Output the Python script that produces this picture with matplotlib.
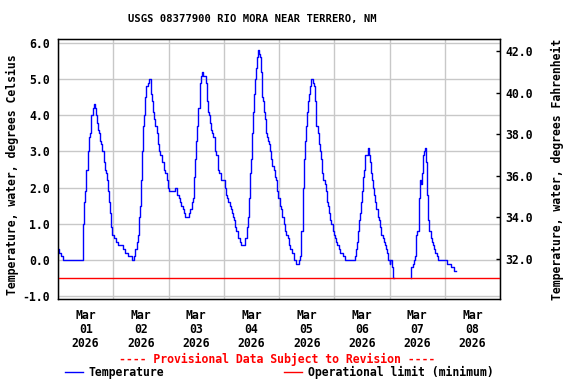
import matplotlib
matplotlib.use("Agg")
import matplotlib.pyplot as plt
import matplotlib.dates as mdates
from matplotlib.lines import Line2D
from matplotlib.ticker import FormatStrFormatter
import numpy as np
import pandas as pd

# hours after 2026-03-01 00:00 and water temperature (deg C)
# (nan = no trace drawn, below the operational limit)
hours = [0.0, 0.45, 1.2, 2.2, 10.8, 11.0, 11.4, 11.9, 12.3, 12.9, 13.3, 13.7, 14.2, 14.5,
         15.0, 15.8, 16.1, 16.4, 16.8, 17.2, 17.7, 18.2, 18.7, 19.2, 20.0, 20.4, 20.8, 21.1,
         21.7, 22.3, 22.6, 23.1, 23.6, 24.3, 25.3, 26.0, 28.2, 29.2, 30.4, 32.0, 33.2, 33.6,
         34.2, 34.7, 35.2, 35.6, 36.0, 36.5, 36.9, 37.3, 37.6, 38.0, 38.3, 38.9, 39.5, 40.2,
         40.9, 41.4, 41.8, 42.2, 42.8, 43.4, 44.0, 44.5, 45.3, 46.0, 46.4, 47.2, 47.7, 48.2,
         50.7, 51.5, 52.5, 52.9, 53.6, 54.2, 54.7, 55.1, 57.1, 57.5, 58.0, 58.6, 59.0, 59.6,
         60.0, 60.4, 60.9, 61.5, 62.0, 62.6, 63.2, 64.2, 64.6, 65.1, 65.5, 65.9, 66.5, 66.9,
         67.5, 68.1, 68.4, 68.8, 69.3, 69.5, 70.1, 70.6, 71.0, 72.4, 72.9, 73.4, 73.9, 74.5,
         75.0, 75.6, 76.1, 76.6, 77.1, 77.5, 78.1, 79.1, 79.7, 81.4, 82.0, 82.4, 82.9, 83.3,
         83.7, 84.1, 84.6, 85.0, 85.4, 85.9, 86.3, 86.8, 87.2, 87.6, 88.1, 88.5, 88.9, 89.4,
         89.8, 90.2, 90.7, 91.1, 91.5, 92.1, 92.7, 93.1, 93.7, 94.1, 94.6, 95.1, 95.7, 96.3,
         96.9, 97.4, 98.0, 98.6, 99.2, 99.7, 100.3, 100.9, 101.6, 102.4, 103.5, 104.8, 105.2,
         105.7, 106.3, 106.8, 107.3, 107.7, 108.1, 108.6, 109.0, 109.4, 109.9, 110.9, 111.3,
         111.8, 112.2, 112.8, 113.3, 113.8, 114.2, 114.8, 115.2, 115.8, 116.2, 116.8, 117.2,
         117.8, 118.3, 118.7, 119.3, 119.7, 120.3, 120.7, 121.3, 121.9, 122.5, 123.6, 124.5,
         128.8, 129.4, 129.8, 130.3, 130.7, 131.1, 131.6, 132.0, 132.4, 132.9, 133.3, 134.5,
         135.0, 135.5, 135.9, 136.3, 136.8, 137.2, 137.6, 138.2, 138.9, 139.5, 140.0, 140.5,
         141.1, 141.5, 142.1, 142.5, 143.1, 143.5, 144.0, 144.2, 145.3, 145.7, 145.8, 153.4,
         153.5, 154.0,
         154.5, 155.1, 155.4, 155.7, 156.1, 156.6, 157.0, 157.4, 157.9, 158.3, 158.7, 159.2,
         159.6, 160.0, 160.5, 160.9, 161.3, 161.9, 162.3, 162.8, 163.4, 163.9, 164.5, 165.2,
         168.9, 170.7, 172.2, 172.8]
temp_c = [0.3, 0.2, 0.1, 0.0, 0.3, 1.0, 1.6, 1.9, 2.5, 3.0, 3.4, 3.5, 3.8, 4.0,
          4.2, 4.3, 4.2, 4.0, 3.8, 3.6, 3.5, 3.3, 3.2, 3.0, 2.7, 2.5, 2.4, 2.2,
          1.9, 1.6, 1.3, 0.9, 0.7, 0.6, 0.5, 0.4, 0.3, 0.2, 0.1, 0.0, 0.1, 0.3,
          0.5, 0.7, 1.2, 1.5, 2.2, 3.0, 3.7, 4.0, 4.2, 4.5, 4.8, 4.9, 5.0, 4.6,
          4.4, 4.1, 3.9, 3.7, 3.5, 3.2, 3.0, 2.9, 2.7, 2.5, 2.4, 2.2, 2.0, 1.9,
          2.0, 1.8, 1.7, 1.6, 1.5, 1.4, 1.3, 1.2, 1.3, 1.4, 1.6, 1.7, 2.3, 2.8,
          3.3, 3.7, 4.2, 4.9, 5.1, 5.2, 5.1, 4.9, 4.4, 4.1, 4.0, 3.8, 3.6, 3.5,
          3.4, 3.2, 3.0, 2.9, 2.7, 2.5, 2.4, 2.3, 2.2, 2.0, 1.8, 1.7, 1.6, 1.5,
          1.4, 1.3, 1.2, 1.1, 0.9, 0.8, 0.6, 0.5, 0.4, 0.6, 0.9, 1.2, 1.7, 2.4,
          2.8, 3.5, 4.1, 4.6, 5.0, 5.3, 5.6, 5.8, 5.7, 5.6, 5.2, 4.5, 4.4, 4.1,
          3.9, 3.5, 3.4, 3.3, 3.2, 3.0, 2.8, 2.6, 2.5, 2.3, 2.2, 1.9, 1.7, 1.5,
          1.4, 1.2, 1.0, 0.8, 0.7, 0.6, 0.4, 0.3, 0.2, 0.0, -0.1, 0.0, 0.1,
          0.8, 2.0, 2.8, 3.3, 3.7, 4.1, 4.4, 4.6, 4.8, 5.0, 4.9, 4.8,
          4.4, 3.7, 3.5, 3.2, 3.0, 2.8, 2.4, 2.2, 2.1, 1.9, 1.6, 1.5,
          1.3, 1.1, 1.0, 0.8, 0.7, 0.6, 0.5, 0.4, 0.3, 0.2, 0.1, 0.0,
          0.1, 0.3, 0.5, 0.8, 1.1, 1.3, 1.6, 1.9, 2.3, 2.5, 2.9, 3.1,
          2.9, 2.7, 2.4, 2.2, 2.0, 1.8, 1.6, 1.4, 1.2, 1.1, 0.9, 0.7,
          0.6, 0.5, 0.4, 0.3, 0.2, 0.0, -0.1, 0.0, -0.2, -0.5, np.nan, -0.5,
          -0.2, -0.1,
          0.0, 0.1, 0.3, 0.7, 0.8, 1.2, 1.7, 2.2, 2.1, 2.4, 2.9, 3.0,
          3.1, 2.7, 1.8, 1.1, 0.8, 0.6, 0.5, 0.4, 0.3, 0.2, 0.1, 0.0,
          -0.1, -0.2, -0.3, -0.3]
op_limit_c = -0.5
c_ticks = [-1, 0, 1, 2, 3, 4, 5, 6]
f_ticks = [32, 34, 36, 38, 40, 42]

start = pd.Timestamp("2026-03-01")
times = start + pd.to_timedelta(hours, unit="h")

plt.rcParams["font.family"] = "DejaVu Sans Mono"
plt.rcParams["font.weight"] = "bold"
plt.rcParams["font.size"] = 8.3

W, H = 576, 384
fig = plt.figure(figsize=(W / 100, H / 100), dpi=100)
ax = fig.add_axes([58 / W, 85 / H, 442 / W, 260 / H])

ax.plot(times, temp_c, color="#0000ff", lw=1.0, drawstyle="steps-post", zorder=2)
ax.axhline(op_limit_c, color="#ff0000", lw=1.0, zorder=3)

ax.set_xlim(start, start + pd.Timedelta(days=8))
ax.set_ylim(-1.08, 6.11)
ax.set_yticks(c_ticks)
ax.yaxis.set_major_formatter(FormatStrFormatter("%.1f"))

ax.xaxis.set_major_locator(mdates.DayLocator())
ax.xaxis.set_major_formatter(plt.NullFormatter())
ax.xaxis.set_minor_locator(mdates.HourLocator(byhour=12))
ax.xaxis.set_minor_formatter(mdates.DateFormatter("%b\n%d\n%Y"))
ax.tick_params(axis="x", which="both", length=0, pad=7)
ax.tick_params(axis="y", length=0, pad=5.8)
for lbl in ax.xaxis.get_minorticklabels():
    lbl.set_linespacing(1.1)

ax.grid(True, which="major", color="#c8c8c8", lw=1.0)
ax.set_axisbelow(True)
for s in ax.spines.values():
    s.set_linewidth(1.0)

ax2 = ax.twinx()
ax2.set_ylim(30.08, 42.58)
ax2.set_yticks(f_ticks)
ax2.yaxis.set_major_formatter(FormatStrFormatter("%.1f"))
ax2.tick_params(axis="y", direction="in", length=3, width=1, pad=3.6)

fig.text(252 / W, 1 - 19 / H, "USGS 08377900 RIO MORA NEAR TERRERO, NM",
         ha="center", va="center", fontsize=7.6)
fig.text(12 / W, 1 - 175 / H, "Temperature, water, degrees Celsius",
         rotation=90, ha="center", va="center")
fig.text(557 / W, 1 - 169 / H, "Temperature, water, degrees Fahrenheit",
         rotation=90, ha="center", va="center")
fig.text(277.5 / W, 1 - 359 / H, "---- Provisional Data Subject to Revision ----",
         ha="center", va="center", color="#ff0000")

handles = [Line2D([], [], color="#0000ff", lw=1.0),
           Line2D([], [], color="#ff0000", lw=1.0)]
fig.legend(handles, ["Temperature", "Operational limit (minimum)"], ncol=2,
           loc="center left", bbox_to_anchor=(65 / W, 1 - 372 / H), frameon=False,
           borderpad=0, borderaxespad=0, handlelength=1.57, handletextpad=0.5,
           columnspacing=10.4)

fig.savefig("out.png", dpi=100)
